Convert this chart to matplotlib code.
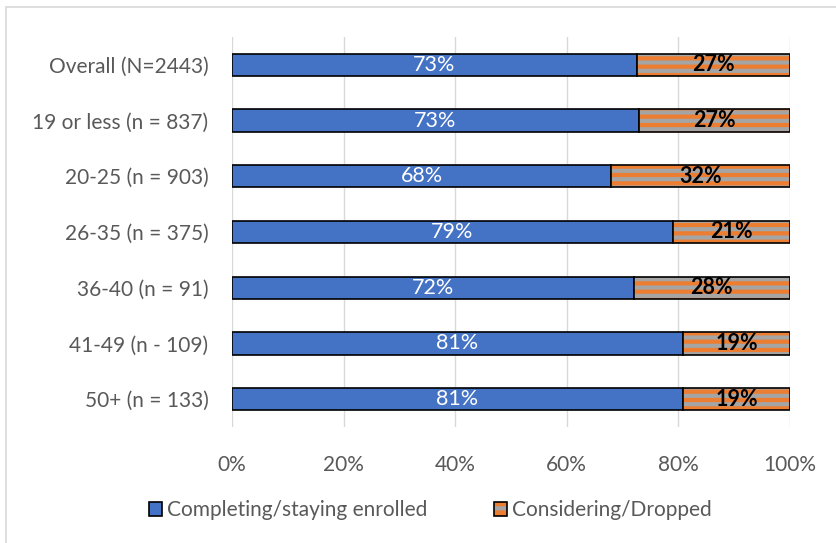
import matplotlib.pyplot as plt
import numpy as np
from matplotlib.patches import Patch, Rectangle

# datos
grupos = ["Overall (N=2443)", "19 or less (n = 837)", "20-25 (n = 903)",
          "26-35 (n = 375)", "36-40 (n = 91)", "41-49 (n - 109)", "50+ (n = 133)"]
completando = [72.6, 72.9, 67.9, 79.0, 72.0, 80.8, 80.8]
etiq_completando = ["73%", "73%", "68%", "79%", "72%", "81%", "81%"]
etiq_dropped = ["27%", "27%", "32%", "21%", "28%", "19%", "19%"]
dropped = [100 - v for v in completando]

azul = "#4472C4"
naranja = "#ED7D31"
gris = "#A5A5A5"

plt.rcParams['font.family'] = ['Lato', 'DejaVu Sans']
plt.rcParams['hatch.linewidth'] = 3.0

fig = plt.figure(figsize=(8.36, 5.43), dpi=100)
ax = fig.add_axes([0.2775, 0.2136, 0.6675, 0.7184])

y = np.arange(len(grupos))
ax.barh(y, completando, height=0.4, color=azul, edgecolor="black", linewidth=1.2, zorder=3)
# franjas naranja/gris
ax.barh(y, dropped, left=completando, height=0.4, color=naranja, edgecolor=gris,
        hatch="--", linewidth=0, zorder=3)
ax.barh(y, dropped, left=completando, height=0.4, fill=False, edgecolor="black",
        linewidth=1.2, zorder=4)

for i in range(len(grupos)):
    ax.text(completando[i] / 2, y[i], etiq_completando[i], ha="center", va="center",
            color="white", fontsize=15.5, zorder=5)
    ax.text(completando[i] + dropped[i] / 2, y[i], etiq_dropped[i], ha="center", va="center",
            color="black", fontsize=15.5, fontweight="bold", zorder=5)

ax.set_xlim(0, 100)
ax.set_ylim(len(grupos) - 0.5, -0.5)
ax.set_yticks(y)
ax.set_yticklabels(grupos)
ax.set_xticks(np.arange(0, 101, 20))
ax.set_xticklabels([f"{v}%" for v in range(0, 101, 20)])
ax.tick_params(axis="both", length=0, labelsize=15, colors="#595959")
ax.tick_params(axis="y", pad=17)
ax.tick_params(axis="x", pad=20)
ax.grid(axis="x", color="#D9D9D9", linewidth=1, zorder=0)
for s in ax.spines.values():
    s.set_visible(False)

h1 = Patch(facecolor=azul, edgecolor="black", linewidth=1.2)
h2a = Patch(facecolor=naranja, edgecolor=gris, linewidth=0, hatch="-")
h2b = Patch(fill=False, edgecolor="black", linewidth=1.2)
leg = fig.legend(handles=[h1, (h2a, h2b)],
                 labels=["Completing/staying enrolled", "Considering/Dropped"],
                 loc="center", bbox_to_anchor=(0.515, 0.06), ncol=2,
                 frameon=False, fontsize=15, handlelength=0.6, handleheight=0.6,
                 handletextpad=0.25, columnspacing=3.2)
for t in leg.get_texts():
    t.set_color("#595959")

# marco exterior
fig.patches.append(Rectangle((0.007, -0.01), 1.0, 0.998, transform=fig.transFigure,
                             fill=False, edgecolor="#D9D9D9", linewidth=1.2))

fig.savefig("out.png", dpi=100)
